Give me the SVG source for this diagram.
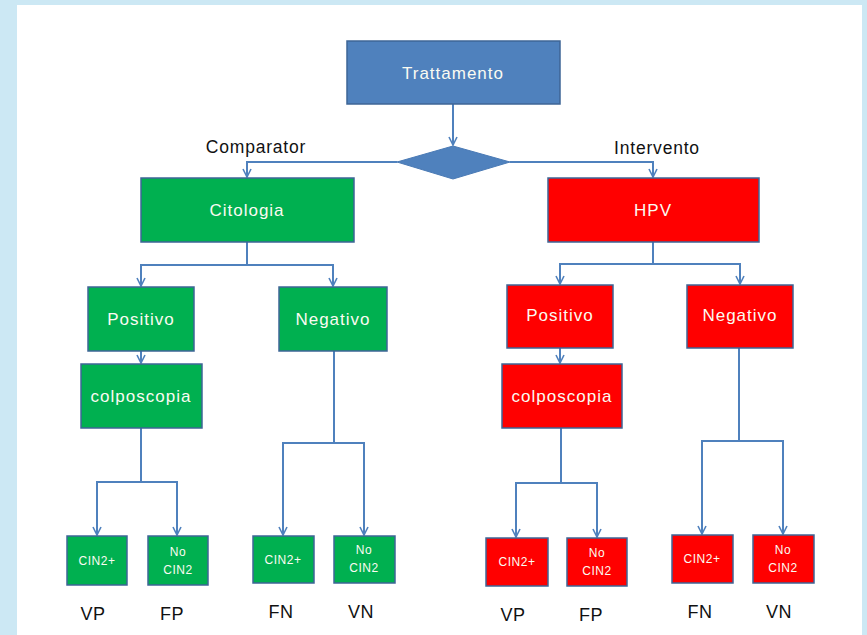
<svg xmlns="http://www.w3.org/2000/svg" width="867" height="635" viewBox="0 0 867 635">
  <defs>
    <marker id="arr" viewBox="0 0 10 10" refX="9" refY="5" markerWidth="10" markerHeight="10" markerUnits="userSpaceOnUse" orient="auto">
      <path d="M1,1 L9,5 L1,9" fill="none" stroke="#4F81BD" stroke-width="1.6"/>
    </marker>
    <style>
      .box { stroke: #3E6596; stroke-width: 1.5; }
      .blue { fill: #4F81BD; }
      .green { fill: #00B050; }
      .red { fill: #FF0000; }
      .lbl { font-family: "Liberation Sans", "DejaVu Sans", sans-serif; fill: #FBFBF2; text-anchor: middle; }
      .big { font-size: 17px; letter-spacing: 1px; }
      .small { font-size: 12px; letter-spacing: 0.5px; }
      .cap { font-family: "Liberation Sans", "DejaVu Sans", sans-serif; fill: #111111; text-anchor: middle; font-size: 18px; letter-spacing: 0.5px; }
      .side { font-size: 17.5px; letter-spacing: 0.8px; }
      .conn path { fill: none; stroke: #4F81BD; stroke-width: 2; }
    </style>
  </defs>

  <!-- frame -->
  <rect x="0" y="0" width="867" height="635" fill="#CCE8F4"/>
  <rect x="17" y="5" width="845" height="630" fill="#FFFFFF"/>

  <!-- connectors -->
  <g class="conn">
    <path d="M453,104 V145" marker-end="url(#arr)"/>
    <path d="M397,162 H247 V177" marker-end="url(#arr)"/>
    <path d="M510,162 H653 V177" marker-end="url(#arr)"/>
    <!-- Citologia branches -->
    <path d="M247,242 V265 H141 V286" marker-end="url(#arr)"/>
    <path d="M247,265 H333 V286" marker-end="url(#arr)"/>
    <path d="M141,351 V363" marker-end="url(#arr)"/>
    <path d="M141,428 V482 H97 V535" marker-end="url(#arr)"/>
    <path d="M141,482 H177 V535" marker-end="url(#arr)"/>
    <path d="M334,351 V443 H283 V535" marker-end="url(#arr)"/>
    <path d="M334,443 H364 V535" marker-end="url(#arr)"/>
    <!-- HPV branches -->
    <path d="M653,242 V264 H560 V284" marker-end="url(#arr)"/>
    <path d="M653,264 H740 V284" marker-end="url(#arr)"/>
    <path d="M560,348 V363" marker-end="url(#arr)"/>
    <path d="M561,428 V483 H516 V537" marker-end="url(#arr)"/>
    <path d="M561,483 H597 V537" marker-end="url(#arr)"/>
    <path d="M739,348 V441 H702 V534" marker-end="url(#arr)"/>
    <path d="M739,441 H783 V534" marker-end="url(#arr)"/>
  </g>

  <!-- root -->
  <g id="trattamento">
    <rect class="box blue" x="347" y="41" width="213" height="63"/>
    <text class="lbl big" x="453" y="79">Trattamento</text>
  </g>
  <g id="decision">
    <polygon points="397,162 453,146 510,162 453,179" fill="#4F81BD" stroke="#4A7AB5" stroke-width="1"/>
  </g>
  <g id="label-comparator">
    <text class="cap side" x="256" y="153">Comparator</text>
  </g>
  <g id="label-intervento">
    <text class="cap side" x="657" y="154">Intervento</text>
  </g>

  <!-- comparator branch -->
  <g id="citologia">
    <rect class="box green" x="141" y="178" width="213" height="64"/>
    <text class="lbl big" x="247" y="216">Citologia</text>
  </g>
  <g id="c-positivo">
    <rect class="box green" x="88" y="287" width="106" height="64"/>
    <text class="lbl big" x="141" y="325">Positivo</text>
  </g>
  <g id="c-negativo">
    <rect class="box green" x="279" y="287" width="108" height="64"/>
    <text class="lbl big" x="333" y="325">Negativo</text>
  </g>
  <g id="c-colposcopia">
    <rect class="box green" x="81" y="364" width="121" height="64"/>
    <text class="lbl big" x="141" y="402">colposcopia</text>
  </g>
  <g id="c-vp">
    <rect class="box green" x="67" y="536" width="60" height="49"/>
    <text class="lbl small" x="97" y="565">CIN2+</text>
  </g>
  <g id="c-fp">
    <rect class="box green" x="148" y="536" width="60" height="49"/>
    <text class="lbl small" x="178" y="556">No</text>
    <text class="lbl small" x="178" y="574">CIN2</text>
  </g>
  <g id="c-fn">
    <rect class="box green" x="253" y="536" width="61" height="47"/>
    <text class="lbl small" x="283" y="564">CIN2+</text>
  </g>
  <g id="c-vn">
    <rect class="box green" x="334" y="536" width="61" height="47"/>
    <text class="lbl small" x="364" y="554">No</text>
    <text class="lbl small" x="364" y="572">CIN2</text>
  </g>

  <!-- intervention branch -->
  <g id="hpv">
    <rect class="box red" x="548" y="178" width="211" height="64"/>
    <text class="lbl big" x="653" y="216">HPV</text>
  </g>
  <g id="h-positivo">
    <rect class="box red" x="507" y="285" width="106" height="63"/>
    <text class="lbl big" x="560" y="321">Positivo</text>
  </g>
  <g id="h-negativo">
    <rect class="box red" x="687" y="285" width="106" height="63"/>
    <text class="lbl big" x="740" y="321">Negativo</text>
  </g>
  <g id="h-colposcopia">
    <rect class="box red" x="502" y="364" width="120" height="64"/>
    <text class="lbl big" x="562" y="402">colposcopia</text>
  </g>
  <g id="h-vp">
    <rect class="box red" x="486" y="538" width="62" height="48"/>
    <text class="lbl small" x="517" y="566">CIN2+</text>
  </g>
  <g id="h-fp">
    <rect class="box red" x="567" y="538" width="60" height="48"/>
    <text class="lbl small" x="597" y="557">No</text>
    <text class="lbl small" x="597" y="575">CIN2</text>
  </g>
  <g id="h-fn">
    <rect class="box red" x="672" y="535" width="61" height="48"/>
    <text class="lbl small" x="702" y="563">CIN2+</text>
  </g>
  <g id="h-vn">
    <rect class="box red" x="753" y="535" width="61" height="48"/>
    <text class="lbl small" x="783" y="554">No</text>
    <text class="lbl small" x="783" y="572">CIN2</text>
  </g>

  <!-- outcome captions -->
  <g id="captions">
    <text class="cap" x="93" y="620">VP</text>
    <text class="cap" x="172" y="620">FP</text>
    <text class="cap" x="281" y="618">FN</text>
    <text class="cap" x="361" y="618">VN</text>
    <text class="cap" x="513" y="621">VP</text>
    <text class="cap" x="591" y="621">FP</text>
    <text class="cap" x="700" y="618">FN</text>
    <text class="cap" x="779" y="618">VN</text>
  </g>
</svg>
